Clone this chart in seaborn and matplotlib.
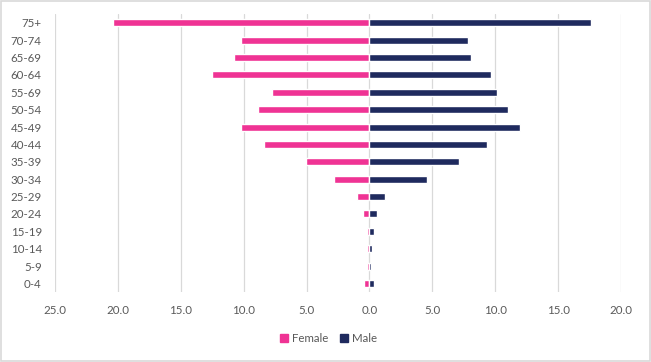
import matplotlib
matplotlib.use('Agg')
import matplotlib.pyplot as plt
from matplotlib.patches import Rectangle
from matplotlib.ticker import FixedLocator, FuncFormatter
import pandas as pd
import seaborn as sns

age_groups = ['75+', '70-74', '65-69', '60-64', '55-69', '50-54', '45-49', '40-44',
              '35-39', '30-34', '25-29', '20-24', '15-19', '10-14', '5-9', '0-4']
female = [20.4, 10.2, 10.8, 12.5, 7.75, 8.85, 10.25, 8.4,
          5.05, 2.8, 1.03, 0.5, 0.2, 0.22, 0.16, 0.45]
male = [17.6, 7.8, 8.05, 9.7, 10.1, 11.0, 11.95, 9.35,
        7.15, 4.55, 1.27, 0.63, 0.32, 0.22, 0.15, 0.37]
x_ticks = [-25, -20, -15, -10, -5, 0, 5, 10, 15, 20]

df = pd.concat([
    pd.DataFrame({'age': age_groups, 'value': [-v for v in female], 'sex': 'Female'}),
    pd.DataFrame({'age': age_groups, 'value': male, 'sex': 'Male'}),
])

sns.set_style('white')
plt.rcParams['font.family'] = ['Lato', 'DejaVu Sans']
text_grey = '#595959'
pink, navy = '#EF3394', '#1F2A5E'

fig, ax = plt.subplots(figsize=(6.51, 3.62), dpi=100)
fig.subplots_adjust(left=0.0845, right=0.954, top=0.961, bottom=0.193)

sns.barplot(data=df, y='age', x='value', hue='sex', order=age_groups,
            palette={'Female': pink, 'Male': navy}, saturation=1,
            dodge=False, width=0.4, orient='h', ax=ax, legend=False)

ax.set_xlim(-25, 20)
ax.xaxis.set_major_locator(FixedLocator(x_ticks))
ax.xaxis.set_major_formatter(FuncFormatter(lambda v, p: f'{abs(v):.1f}'))
ax.grid(axis='x', color='#D9D9D9', linewidth=0.9)
ax.set_axisbelow(True)
for s in ax.spines.values():
    s.set_visible(False)
ax.tick_params(axis='both', length=0, colors=text_grey, labelsize=8.3)
ax.tick_params(axis='x', pad=9)
ax.tick_params(axis='y', pad=9.5)
ax.set_xlabel('')
ax.set_ylabel('')

handles = [Rectangle((0, 0), 1, 1, color=pink), Rectangle((0, 0), 1, 1, color=navy)]
fig.legend(handles, ['Female', 'Male'], loc='center', bbox_to_anchor=(0.505, 0.064),
           ncol=2, frameon=False, fontsize=8.3, labelcolor=text_grey,
           handlelength=0.7, handleheight=0.7, handletextpad=0.35, columnspacing=1.0)

fig.add_artist(Rectangle((0.001, 0.002), 0.997, 0.995, transform=fig.transFigure,
                         fill=False, edgecolor='#D9D9D9', linewidth=1.2))

fig.savefig('out.png', dpi=100, facecolor='white')
